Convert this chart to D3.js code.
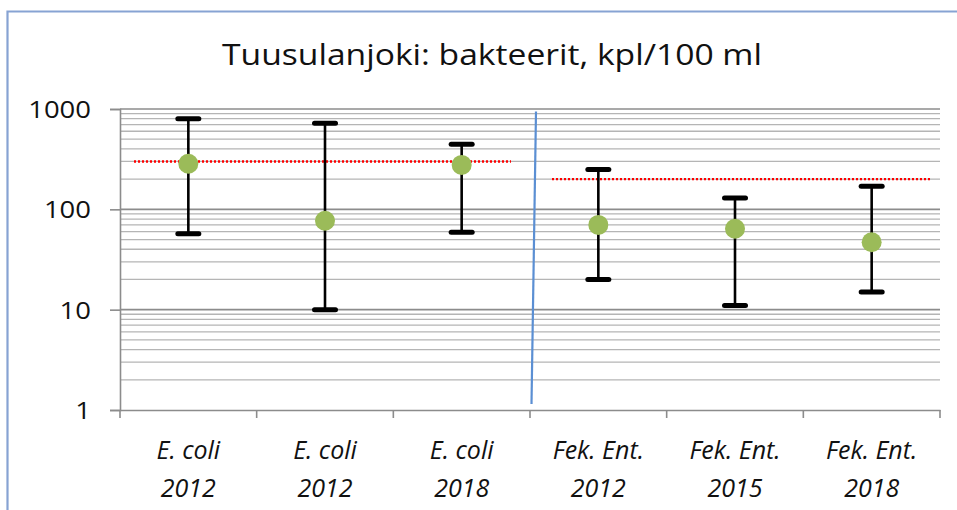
<!DOCTYPE html>
<html>
<head>
<meta charset="utf-8">
<script src="https://cdn.jsdelivr.net/npm/d3@7"></script>
<style>
  html, body { margin: 0; padding: 0; background: #fff; }
  svg { display: block; font-family: "Open Sans", sans-serif; }
</style>
</head>
<body>
<svg id="chart" width="957" height="510"></svg>
<script>
const title = "Tuusulanjoki: bakteerit, kpl/100 ml";
const categoryLine1 = ["E. coli", "E. coli", "E. coli", "Fek. Ent.", "Fek. Ent.", "Fek. Ent."];
const categoryLine2 = ["2012", "2012", "2018", "2012", "2015", "2018"];
const meanValues = [285, 77, 277, 70, 64, 47];
const maxValues  = [800, 720, 445, 250, 130, 170];
const minValues  = [57, 10, 59, 20, 11, 15];
const yTickValues = [1, 10, 100, 1000];
const limitEcoli = 300;
const limitEnt = 200;

const svg = d3.select("#chart");
const W = 957, H = 510;
const m = { left: 120, right: 940, top: 109, bottom: 410 };

// chart border
svg.append("path")
  .attr("d", `M7.5,${H} L7.5,11.5 L${W},11.5`)
  .attr("fill", "none").attr("stroke", "#87a3d3").attr("stroke-width", 2.2);

svg.append("text")
  .attr("x", 492).attr("y", 65)
  .attr("text-anchor", "middle")
  .attr("font-size", 30)
  .attr("fill", "#111")
  .attr("textLength", 540).attr("lengthAdjust", "spacingAndGlyphs")
  .text(title);

const idx = d3.range(categoryLine1.length);
const x = d3.scaleBand().domain(idx).range([m.left, m.right]).padding(0);
const y = d3.scaleLog().domain([1, 1000]).range([m.bottom, m.top]);

// gridlines
const gridVals = [];
[1, 10, 100].forEach(d => { for (let k = 1; k <= 9; k++) gridVals.push(d * k); });
gridVals.push(1000);
const majors = new Set(yTickValues);
svg.append("g").selectAll("line").data(gridVals.filter(v => v > 1)).join("line")
  .attr("x1", m.left).attr("x2", m.right)
  .attr("y1", d => y(d)).attr("y2", d => y(d))
  .attr("stroke", d => majors.has(d) ? "#8c8c8c" : "#b5b5b5")
  .attr("stroke-width", d => majors.has(d) ? 1.6 : 1.3);

// y axis
const yAxis = d3.axisLeft(y).tickValues(yTickValues).tickSize(10).tickFormat(d3.format("d"));
const gy = svg.append("g").attr("transform", `translate(${m.left},0)`).call(yAxis);
gy.select(".domain").attr("stroke", "#8c8c8c").attr("stroke-width", 1.6);
gy.selectAll(".tick line").attr("stroke", "#8c8c8c").attr("stroke-width", 1.6);
gy.selectAll(".tick text")
  .attr("x", -29).attr("dy", "0.35em")
  .attr("font-size", 24).attr("font-family", "Open Sans, sans-serif").attr("fill", "#111")
  .attr("textLength", d => String(d).length * 15.7).attr("lengthAdjust", "spacingAndGlyphs");

// x axis
const xAxis = d3.axisBottom(x).tickSize(0).tickFormat("");
const gx = svg.append("g").attr("transform", `translate(0,${m.bottom})`).call(xAxis);
gx.select(".domain").attr("stroke", "#8c8c8c").attr("stroke-width", 1.6);
const bounds = idx.map(i => x(i)).concat([m.right]);
svg.append("g").selectAll("line").data(bounds).join("line")
  .attr("x1", d => d).attr("x2", d => d)
  .attr("y1", m.bottom).attr("y2", m.bottom + 8)
  .attr("stroke", "#8c8c8c").attr("stroke-width", 1.6);

const cx = i => x(i) + x.bandwidth() / 2;
const labels = svg.append("g").attr("font-style", "italic").attr("font-size", 25).attr("fill", "#111");
labels.selectAll("text.l1").data(idx).join("text").attr("class", "l1")
  .attr("x", cx).attr("y", 459).attr("text-anchor", "middle")
  .text(i => categoryLine1[i]);
labels.selectAll("text.l2").data(idx).join("text").attr("class", "l2")
  .attr("x", cx).attr("y", 497).attr("text-anchor", "middle")
  .text(i => categoryLine2[i]);

// separator line
svg.append("line")
  .attr("x1", 536).attr("y1", 111.5).attr("x2", 531.5).attr("y2", 404)
  .attr("stroke", "#5b8fd3").attr("stroke-width", 2.2);

// limit lines
svg.append("line")
  .attr("x1", 134).attr("x2", 511).attr("y1", y(limitEcoli)).attr("y2", y(limitEcoli))
  .attr("stroke", "#ff0000").attr("stroke-width", 2.4).attr("stroke-dasharray", "2,2");
svg.append("line")
  .attr("x1", 552).attr("x2", 930).attr("y1", y(limitEnt)).attr("y2", y(limitEnt))
  .attr("stroke", "#ff0000").attr("stroke-width", 2.4).attr("stroke-dasharray", "2,2");

// error bars
const eb = svg.append("g").attr("stroke", "#000");
eb.selectAll("line.stem").data(idx).join("line").attr("class", "stem")
  .attr("x1", cx).attr("x2", cx)
  .attr("y1", i => y(maxValues[i])).attr("y2", i => y(minValues[i]))
  .attr("stroke-width", 2.6);
eb.selectAll("line.capHi").data(idx).join("line").attr("class", "capHi")
  .attr("x1", i => cx(i) - 10.5).attr("x2", i => cx(i) + 10.5)
  .attr("y1", i => y(maxValues[i])).attr("y2", i => y(maxValues[i]))
  .attr("stroke-width", 5).attr("stroke-linecap", "round");
eb.selectAll("line.capLo").data(idx).join("line").attr("class", "capLo")
  .attr("x1", i => cx(i) - 10.5).attr("x2", i => cx(i) + 10.5)
  .attr("y1", i => y(minValues[i])).attr("y2", i => y(minValues[i]))
  .attr("stroke-width", 5).attr("stroke-linecap", "round");

// markers
svg.append("g").selectAll("circle").data(idx).join("circle")
  .attr("cx", cx).attr("cy", i => y(meanValues[i])).attr("r", 10)
  .attr("fill", "#9bbb59");
</script>
</body>
</html>
